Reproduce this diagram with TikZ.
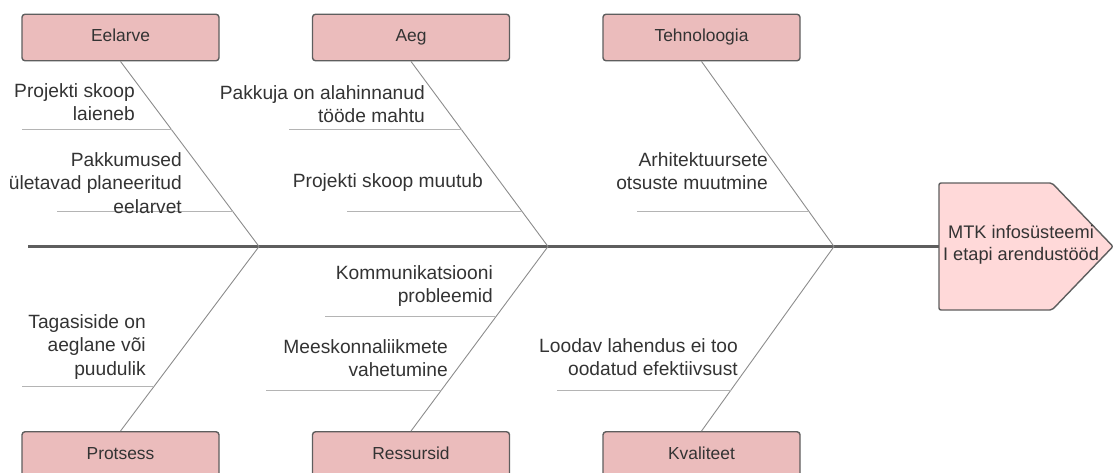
\documentclass[tikz,border=0pt]{standalone}
\usepackage{fontspec}
\setmainfont{Liberation Sans}
\usetikzlibrary{calc}

\definecolor{boxfill}{HTML}{EBBCBC}
\definecolor{headfill}{HTML}{FFD9D9}
\definecolor{edge}{HTML}{5E5E5E}
\definecolor{bone}{HTML}{8C8C8C}
\definecolor{rib}{HTML}{B4B4B4}
\definecolor{ink}{HTML}{333333}

\tikzset{
  category/.style={draw=edge, line width=1.4pt, fill=boxfill, rounded corners=3pt,
    minimum width=197pt, minimum height=46.5pt, inner sep=0pt, text=ink,
    text height=12.5pt, text depth=3.5pt,
    font=\fontsize{17.4}{21}\selectfont},
  cause/.style={anchor=north east, inner sep=0pt, align=right, text=ink,
    font=\fontsize{19.2}{23.7}\selectfont},
  spine/.style={draw=edge, line width=2.2pt},
  bonestyle/.style={draw=bone, line width=0.9pt},
  ribstyle/.style={draw=rib, line width=1pt},
}

\begin{document}
\begin{tikzpicture}[x=1pt, y=-1pt]
\path[use as bounding box] (0,0) rectangle (1115,473);
\clip (0,0) rectangle (1115,473);

% category boxes
\node[category] (eel) at (120.5,37.5) {Eelarve};
\node[category] (aeg) at (411,37.5) {Aeg};
\node[category] (teh) at (701.5,37.5) {Tehnoloogia};
\node[category] (pro) at (120.5,455) {Protsess};
\node[category] (res) at (411,455) {Ressursid};
\node[category] (kva) at (701.5,455) {Kvaliteet};

% effect head
\coordinate (hw) at (939,246.5);
\draw[draw=edge, line width=1.4pt, fill=headfill, rounded corners=2pt]
  (939,183) -- (1052,183) -- (1113,246.5) -- (1052,310) -- (939,310) -- cycle;
\node[align=center, text=ink, font=\fontsize{18.2}{22}\selectfont] (head) at (1021,245)
  {MTK infosüsteemi\\I etapi arendustööd};

% spine
\coordinate (tail) at (28,246.5);
\coordinate (j1) at (259,246.5);
\coordinate (j2) at (548,246.5);
\coordinate (j3) at (834,246.5);
\draw[spine] (tail) -- (hw);

% bones
\draw[bonestyle] (eel.south) -- (j1);
\draw[bonestyle] (aeg.south) -- (j2);
\draw[bonestyle] (teh.south) -- (j3);
\draw[bonestyle] (pro.north) -- (j1);
\draw[bonestyle] (res.north) -- (j2);
\draw[bonestyle] (kva.north) -- (j3);

% rib end points on the bones
\coordinate (e1) at ($(eel.south)!0.372!(j1)$);
\coordinate (e2) at ($(eel.south)!0.810!(j1)$);
\coordinate (a1) at ($(aeg.south)!0.372!(j2)$);
\coordinate (a2) at ($(aeg.south)!0.810!(j2)$);
\coordinate (t1) at ($(teh.south)!0.810!(j3)$);
\coordinate (p1) at ($(pro.north)!0.247!(j1)$);
\coordinate (r1) at ($(res.north)!0.624!(j2)$);
\coordinate (r2) at ($(res.north)!0.226!(j2)$);
\coordinate (k1) at ($(kva.north)!0.226!(j3)$);

\coordinate (e1s) at (22,130);
\coordinate (e2s) at (57,211);
\coordinate (a1s) at (289,130);
\coordinate (a2s) at (347,211);
\coordinate (t1s) at (637,211);
\coordinate (p1s) at (22,386);
\coordinate (r1s) at (325,316);
\coordinate (r2s) at (266,390);
\coordinate (k1s) at (557,390);

\draw[ribstyle] (e1s) -- (e1 |- e1s);
\draw[ribstyle] (e2s) -- (e2 |- e2s);
\draw[ribstyle] (a1s) -- (a1 |- a1s);
\draw[ribstyle] (a2s) -- (a2 |- a2s);
\draw[ribstyle] (t1s) -- (t1 |- t1s);
\draw[ribstyle] (p1s) -- (p1 |- p1s);
\draw[ribstyle] (r1s) -- (r1 |- r1s);
\draw[ribstyle] (r2s) -- (r2 |- r2s);
\draw[ribstyle] (k1s) -- (k1 |- k1s);

% causes
\node[cause] (c1) at (135,83) {Projekti skoop\\laieneb};
\node[cause] (c2) at (182,152) {Pakkumused\\ületavad planeeritud\\eelarvet};
\node[cause] (c3) at (425,85) {Pakkuja on alahinnanud\\tööde mahtu};
\node[cause] (c4) at (483,173) {Projekti skoop muutub};
\node[cause] (c5) at (768,152) {Arhitektuursete\\otsuste muutmine};
\node[cause] (c6) at (493,265) {Kommunikatsiooni\\probleemid};
\node[cause] (c7) at (448,339) {Meeskonnaliikmete\\vahetumine};
\node[cause] (c8) at (146,314) {Tagasiside on\\aeglane või\\puudulik};
\node[cause] (c9) at (738,338) {Loodav lahendus ei too\\oodatud efektiivsust};
\end{tikzpicture}
\end{document}
